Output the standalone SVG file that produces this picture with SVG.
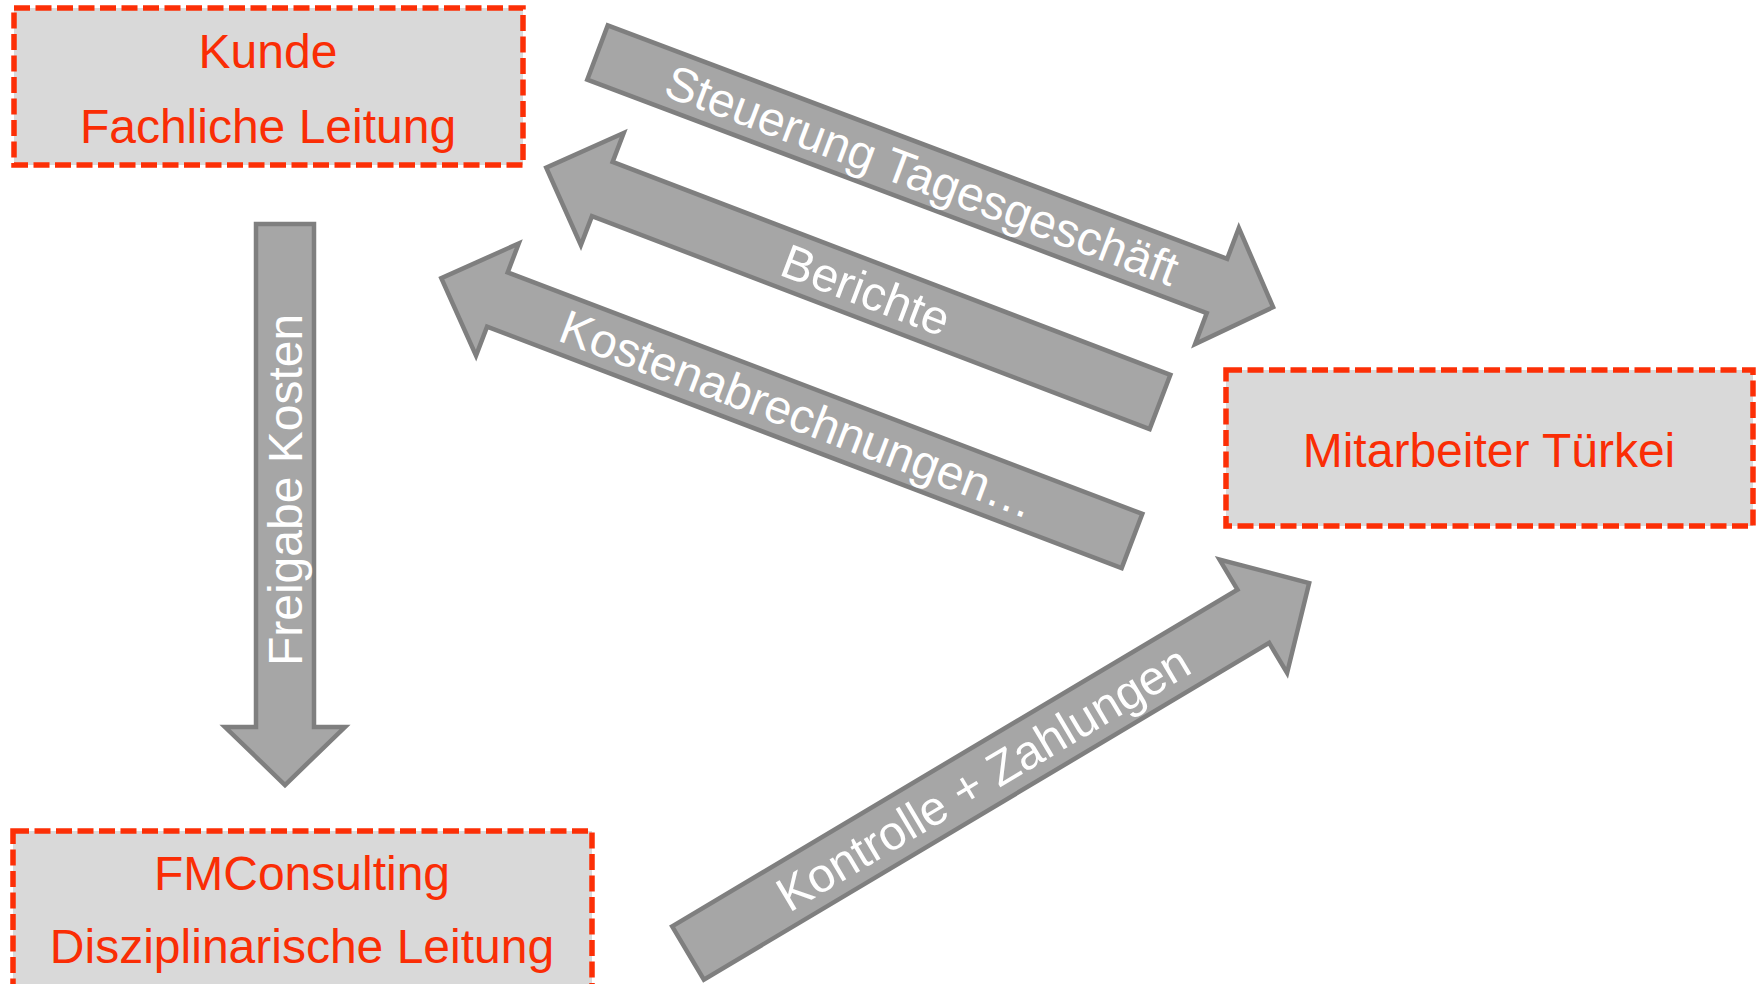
<svg xmlns="http://www.w3.org/2000/svg" width="1760" height="984" viewBox="0 0 1760 984">
<style>
.box{fill:#D9D9D9;stroke:#FC2F06;stroke-width:5.5;stroke-dasharray:16 5.5;}
.bt{font-family:"Liberation Sans",Arial,sans-serif;font-size:48px;fill:#FA2D05;text-anchor:middle;}
.arr{fill:#A6A6A6;stroke:#7F7F7F;stroke-width:4.5;stroke-linejoin:miter;}
.at{font-family:"Liberation Sans",Arial,sans-serif;font-size:48px;fill:#FFFFFF;text-anchor:middle;}
</style>
<rect width="1760" height="984" fill="#FFFFFF"/>
<g id="connectors">
  <g id="steuerung">
    <path class="arr" transform="translate(597.5,52.5) rotate(20.65)" d="M0,-29 L662,-29 L662,-62 L722,0 L662,62 L662,29 L0,29 Z"/>
    <text class="at" transform="translate(922,175) rotate(20.65)" dy="0.35em">Steuerung Tagesgeschäft</text>
  </g>
  <g id="berichte">
    <path class="arr" transform="translate(1160,402) rotate(200.9)" d="M0,-29 L597,-29 L597,-60 L657,0 L597,60 L597,29 L0,29 Z"/>
    <text class="at" transform="translate(866,290) rotate(20.9)" dy="0.35em">Berichte</text>
  </g>
  <g id="kosten">
    <path class="arr" transform="translate(1132,541) rotate(200.83)" d="M0,-29 L679,-29 L679,-60 L739,0 L679,60 L679,29 L0,29 Z"/>
    <text class="at" transform="translate(798,414) rotate(20.83)" dy="0.35em">Kostenabrechnungen…</text>
  </g>
  <g id="kontrolle">
    <path class="arr" transform="translate(688,953) rotate(-30.78)" d="M0,-31 L658,-31 L658,-66 L723,0 L658,66 L658,31 L0,31 Z"/>
    <text class="at" transform="translate(983,778) rotate(-30.78)" dy="0.35em">Kontrolle + Zahlungen</text>
  </g>
  <g id="freigabe">
    <path class="arr" transform="translate(285,224) rotate(90)" d="M0,-29 L503,-29 L503,-60 L561,0 L503,60 L503,29 L0,29 Z"/>
    <text class="at" transform="translate(285,490) rotate(-90)" dy="0.35em">Freigabe Kosten</text>
  </g>
</g>
<g id="kunde">
  <rect class="box" x="14" y="8" width="509" height="157"/>
  <text class="bt" x="268" y="68">Kunde</text>
  <text class="bt" x="268" y="143">Fachliche Leitung</text>
</g>
<g id="mitarbeiter">
  <rect class="box" x="1226" y="370" width="527" height="156"/>
  <text class="bt" x="1489" y="467">Mitarbeiter Türkei</text>
</g>
<g id="fmconsulting">
  <rect class="box" x="13" y="831" width="579" height="180"/>
  <text class="bt" x="302" y="890">FMConsulting</text>
  <text class="bt" x="302" y="963">Disziplinarische Leitung</text>
</g>
</svg>
